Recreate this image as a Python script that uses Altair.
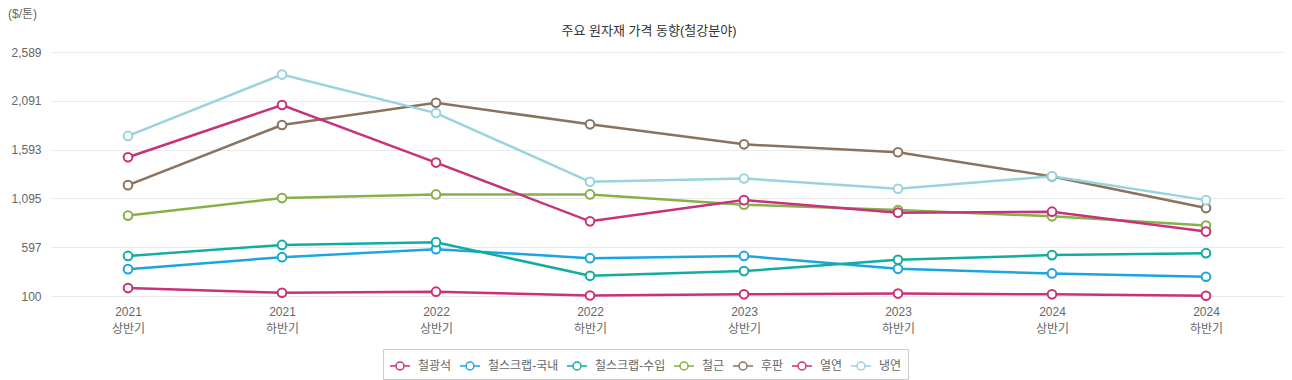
import altair as alt
import pandas as pd

periods = ["2021 상반기", "2021 하반기", "2022 상반기", "2022 하반기",
           "2023 상반기", "2023 하반기", "2024 상반기", "2024 하반기"]
series_names = ["철광석", "철스크랩-국내", "철스크랩-수입", "철근", "후판", "열연", "냉연"]
colors = ["#c8327a", "#1ba5e1", "#12ad9e", "#86b04a", "#8a735e", "#c8327a", "#98d3de"]

iron_ore = [181, 133, 144, 105, 117, 125, 117, 103]
scrap_domestic = [374, 496, 578, 486, 509, 377, 330, 296]
scrap_import = [509, 621, 649, 306, 354, 469, 517, 537]
rebar = [920, 1099, 1136, 1136, 1032, 977, 913, 818]
plate = [1231, 1844, 2071, 1851, 1647, 1566, 1319, 997]
hot_rolled = [1515, 2048, 1461, 862, 1078, 950, 960, 757]
cold_rolled = [1733, 2359, 1966, 1265, 1299, 1194, 1322, 1078]

y_ticks = [100, 597, 1095, 1593, 2091, 2589]
title_text = "주요 원자재 가격 동향(철강분야)"
unit_text = "($/톤)"

all_values = [iron_ore, scrap_domestic, scrap_import, rebar, plate, hot_rolled, cold_rolled]
rows = []
for name, vals in zip(series_names, all_values):
    for p, v in zip(periods, vals):
        rows.append({"period": p, "series": name, "value": v})
df = pd.DataFrame(rows)

W, H = 1232, 244
FONT = "Liberation Sans, Noto Sans CJK KR, sans-serif"
legend_path = "M-1,0L-0.4,0M0.4,0L1,0M0.4,0A0.4,0.4,0,1,1,-0.4,0A0.4,0.4,0,1,1,0.4,0"

x_enc = alt.X("period:N", sort=periods,
              scale=alt.Scale(type="point", padding=0.5),
              axis=alt.Axis(title=None, labelAngle=0, ticks=False, domain=False, grid=False,
                            labelExpr="split(datum.label, ' ')", labelPadding=10,
                            labelFontSize=12, labelColor="#666", labelLineHeight=17))
y_enc = alt.Y("value:Q",
              scale=alt.Scale(domain=[100, 2589], nice=False, zero=False),
              axis=alt.Axis(title=None, values=y_ticks, format=",.0f", grid=True,
                            gridColor="#e9e9e9", domain=False, ticks=False,
                            labelPadding=10, labelFontSize=12, labelColor="#666"))

base = alt.Chart(df)

lines = base.mark_line(strokeWidth=2.5).encode(
    x=x_enc, y=y_enc,
    color=alt.Color("series:N", sort=series_names,
                    scale=alt.Scale(domain=series_names, range=colors),
                    legend=alt.Legend(title=None, orient="none", legendX=332, legendY=297,
                                      direction="horizontal",
                                      columns=7, padding=6, strokeColor="#cccccc",
                                      symbolType=legend_path, symbolSize=400,
                                      symbolStrokeWidth=1.5, symbolFillColor="white",
                                      labelFontSize=12, labelColor="#666",
                                      columnPadding=5, labelOffset=7)),
    detail="series:N",
)

points = base.mark_point(filled=False, fill="white", size=75, strokeWidth=2, opacity=1).encode(
    x=x_enc, y=y_enc,
    stroke=alt.Stroke("series:N", scale=alt.Scale(domain=series_names, range=colors), legend=None),
    detail="series:N",
)

unit = alt.Chart(pd.DataFrame({"t": [unit_text]})).mark_text(
    align="left", baseline="top", fontSize=12, color="#666"
).encode(x=alt.value(-43), y=alt.value(-43), text="t:N")

title = alt.Chart(pd.DataFrame({"t": [title_text]})).mark_text(
    align="center", baseline="middle", fontSize=13, color="#333"
).encode(x=alt.value(W / 2 - 18), y=alt.value(-21), text="t:N")

chart = alt.layer(lines, points, unit, title).resolve_scale(color="independent").properties(
    width=W, height=H,
).configure(font=FONT, padding={"left": 0, "top": 0, "right": 0, "bottom": 0}).configure_view(stroke=None)

chart.save("out.html", embed_options={"renderer": "svg", "actions": False})
